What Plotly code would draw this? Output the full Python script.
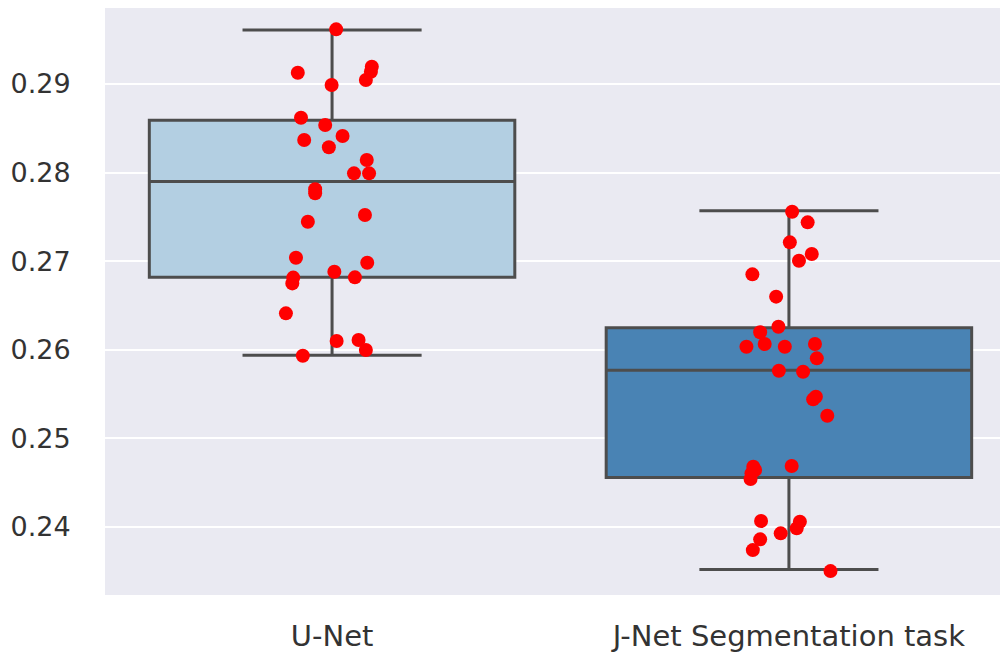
import plotly.graph_objects as go

categories = ["U-Net", "J-Net Segmentation task"]

# box statistics
q1 = [0.2682, 0.2456]
median = [0.2790, 0.2577]
q3 = [0.2859, 0.2625]
lower_fence = [0.2594, 0.2352]
upper_fence = [0.2961, 0.2757]
box_colors = ["#b3cfe2", "#4983b4"]

# strip points (value, jitter offset) per group
unet_values = [0.29617, 0.29128, 0.29195, 0.29139, 0.29045, 0.28989, 0.28620, 0.28537,
               0.28413, 0.28368, 0.28286, 0.28142, 0.27992, 0.27992, 0.27812, 0.27767,
               0.27521, 0.27446, 0.27040, 0.26983, 0.26882, 0.26815, 0.26750, 0.26818,
               0.26412, 0.26099, 0.26111, 0.25998, 0.25933]
unet_jitter = [0.009, -0.075, 0.087, 0.085, 0.074, -0.001, -0.068, -0.015,
               0.023, -0.061, -0.007, 0.076, 0.048, 0.081, -0.037, -0.037,
               0.072, -0.053, -0.079, 0.077, 0.005, -0.085, -0.087, 0.050,
               -0.101, 0.010, 0.058, 0.074, -0.064]

jnet_values = [0.27559, 0.27439, 0.27213, 0.27081, 0.27006, 0.26852, 0.26600, 0.26261,
               0.26198, 0.26065, 0.26035, 0.26035, 0.26065, 0.25904, 0.25764, 0.25753,
               0.25471, 0.25441, 0.25256, 0.24681, 0.24689, 0.24643, 0.24606, 0.24542,
               0.24068, 0.24060, 0.23985, 0.23929, 0.23861, 0.23740, 0.23503]
jnet_jitter = [0.007, 0.041, 0.002, 0.050, 0.022, -0.080, -0.028, -0.023,
               -0.063, -0.053, -0.093, -0.009, 0.057, 0.061, -0.022, 0.031,
               0.059, 0.053, 0.084, -0.078, 0.006, -0.074, -0.082, -0.084,
               -0.061, 0.024, 0.017, -0.018, -0.063, -0.079, 0.091]

y_ticks = [0.24, 0.25, 0.26, 0.27, 0.28, 0.29]

fig = go.Figure()
for i, name in enumerate(categories):
    fig.add_trace(go.Box(
        x=[i], q1=[q1[i]], median=[median[i]], q3=[q3[i]],
        lowerfence=[lower_fence[i]], upperfence=[upper_fence[i]],
        width=0.8, whiskerwidth=0.49,
        fillcolor=box_colors[i],
        line=dict(color="#4d4d4d", width=3),
        boxpoints=False, showlegend=False, hoverinfo="skip",
    ))

for idx, (vals, jit) in enumerate([(unet_values, unet_jitter), (jnet_values, jnet_jitter)]):
    fig.add_trace(go.Scatter(
        x=[idx + j for j in jit], y=vals, mode="markers",
        marker=dict(color="#ff0000", size=14, line=dict(width=0)),
        showlegend=False,
    ))

fig.update_layout(
    width=1000, height=650,
    margin=dict(l=97, r=8, t=0, b=63),
    paper_bgcolor="white", plot_bgcolor="#eaeaf2",
    font=dict(family="DejaVu Sans", size=27, color="#333333"),
)
fig.update_xaxes(
    range=[-0.497, 1.462], tickvals=[0, 1], ticktext=categories,
    tickfont=dict(size=29),
    showgrid=False, zeroline=False, showline=False, automargin=False,
    ticks="outside", ticklen=15, tickcolor="rgba(0,0,0,0)",
)
fig.update_yaxes(
    range=[0.23233, 0.29858], tickvals=y_ticks, ticktext=[f"{v:.2f}" for v in y_ticks],
    showgrid=True, gridcolor="white", gridwidth=2, zeroline=False, showline=False,
    automargin=False,
    ticks="outside", ticklen=28, tickcolor="rgba(0,0,0,0)",
)

fig.write_html("out.html")
